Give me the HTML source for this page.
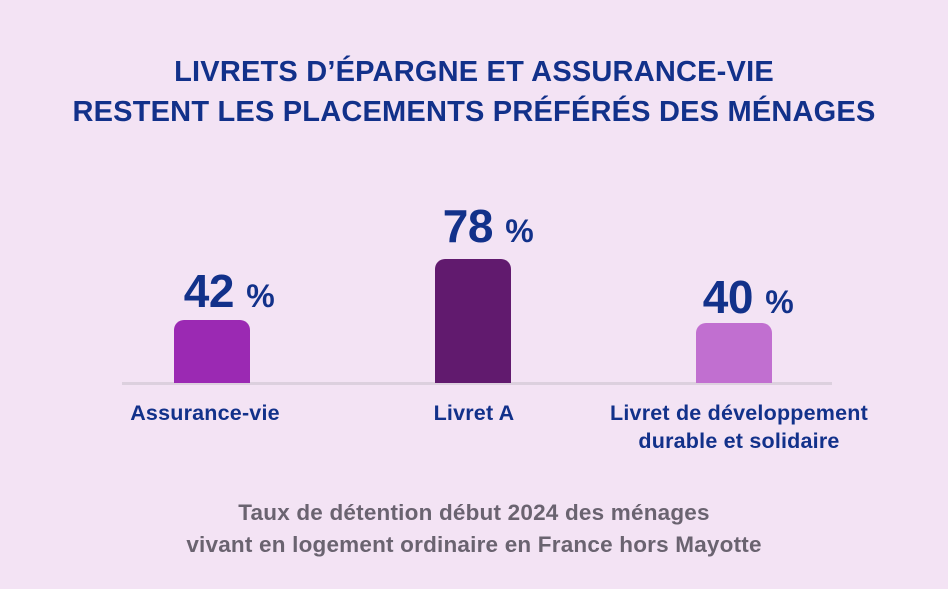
<!DOCTYPE html>
<html><head><meta charset="utf-8"><style>
body{margin:0;width:948px;height:589px;background:#f3e3f4;font-family:"Liberation Sans",sans-serif;position:relative;overflow:hidden}
.t{position:absolute;left:0;width:948px;text-align:center;color:#12318a;font-weight:bold;font-size:29px;letter-spacing:0.2px}
.bar{position:absolute;width:76px;border-radius:10px 10px 0 0}
.v{position:absolute;width:200px;text-align:center;color:#12318a;font-weight:bold;font-size:46px;letter-spacing:-0.5px}
.v span{font-size:32px}
.c{position:absolute;width:360px;text-align:center;color:#12318a;font-size:21.5px;line-height:28px;font-weight:bold;letter-spacing:0.2px}
.f{position:absolute;left:0;width:948px;text-align:center;color:#6a6370;font-size:22.5px;line-height:32px;font-weight:bold;letter-spacing:0.2px}
</style></head><body>
<div class="t" style="top:56px">LIVRETS D’ÉPARGNE ET ASSURANCE-VIE</div>
<div class="t" style="top:96px">RESTENT LES PLACEMENTS PRÉFÉRÉS DES MÉNAGES</div>
<div style="position:absolute;left:122px;top:382px;width:710px;height:3px;background:#dcd0de"></div>
<div class="bar" style="left:174px;top:320px;height:63px;background:#9b29b3"></div>
<div class="bar" style="left:435px;top:259px;height:124px;background:#611a6e"></div>
<div class="bar" style="left:696px;top:323px;height:60px;background:#c16fd0"></div>
<div class="v" style="left:129px;top:264px">42 <span>%</span></div>
<div class="v" style="left:388px;top:199px">78 <span>%</span></div>
<div class="v" style="left:648px;top:270px">40 <span>%</span></div>
<div class="c" style="left:25px;top:399px">Assurance-vie</div>
<div class="c" style="left:294px;top:399px">Livret A</div>
<div class="c" style="left:559px;top:399px">Livret de développement<br>durable et solidaire</div>
<div class="f" style="top:497px">Taux de détention début 2024 des ménages<br>vivant en logement ordinaire en France hors Mayotte</div>
</body></html>
